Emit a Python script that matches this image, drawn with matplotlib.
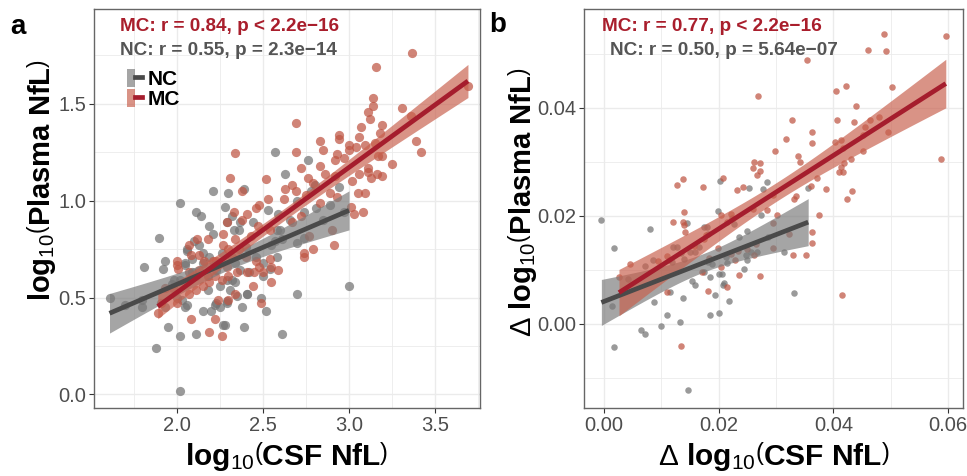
import numpy as np
import matplotlib
matplotlib.use("Agg")
import matplotlib.pyplot as plt
from matplotlib.patches import Patch
from matplotlib.lines import Line2D
from matplotlib.legend_handler import HandlerTuple

plt.rcParams["font.family"] = ["Liberation Sans", "DejaVu Sans"]
plt.rcParams["mathtext.fontset"] = "custom"
plt.rcParams["mathtext.rm"] = "Liberation Sans"
plt.rcParams["mathtext.bf"] = "Liberation Sans:bold"
plt.rcParams["mathtext.it"] = "Liberation Sans:italic"

# ---------------------------------------------------------
# panel a: log10 CSF NfL vs log10 plasma NfL
# ---------------------------------------------------------
a_nc_x = [1.61, 1.70, 1.80, 1.81, 1.90, 1.93, 1.92, 1.88, 1.95, 2.02,
          2.02, 2.02, 2.11, 2.14, 2.21, 2.30, 2.39, 2.57, 2.76, 2.63,
          2.80, 2.78, 3.00, 2.61, 2.70, 2.52, 2.49, 2.39, 2.38, 2.28,
          2.20, 2.15, 2.11, 2.05, 2.28, 2.19, 2.06, 2.13, 2.05, 2.09,
          2.02, 2.23, 2.29, 2.18, 2.41, 2.31, 2.34, 2.32, 2.36, 2.44,
          2.53, 2.58, 2.55, 2.61, 2.70, 2.74, 2.81, 2.89, 2.94, 2.97,
          2.85, 2.50, 2.58, 2.46, 2.40, 2.34, 2.26, 2.23, 2.19, 2.15,
          2.11, 2.00, 1.97, 1.93, 2.42, 2.50, 2.37, 2.29, 2.25, 2.66,
          2.70, 1.80, 2.27, 2.41, 2.32, 2.05, 2.06, 1.985, 2.03, 2.06,
          2.22, 2.25, 2.29, 2.35, 2.54, 2.57, 2.60, 2.59, 2.33, 2.37,
          2.29, 2.21, 2.15, 2.09, 2.10, 2.74]
a_nc_y = [0.50, 0.46, 0.49, 0.66, 0.81, 0.69, 0.65, 0.24, 0.35, 0.30,
          0.02, 0.99, 0.94, 0.92, 1.05, 1.04, 1.06, 1.25, 1.21, 1.14,
          1.08, 1.05, 0.56, 0.31, 0.52, 0.43, 0.50, 0.35, 0.45, 0.36,
          0.43, 0.43, 0.31, 0.45, 0.97, 0.87, 0.75, 0.77, 0.68, 0.63,
          0.59, 0.47, 0.47, 0.54, 0.52, 0.54, 0.58, 0.92, 0.85, 0.89,
          0.95, 0.85, 0.77, 0.80, 0.78, 0.94, 0.96, 0.98, 1.07, 0.94,
          0.90, 0.68, 0.71, 0.71, 0.76, 0.68, 0.73, 0.64, 0.71, 0.68,
          0.61, 0.50, 0.57, 0.45, 0.63, 0.61, 0.64, 0.59, 0.56, 0.90,
          1.00, 0.45, 0.36, 0.52, 0.59, 0.67, 0.74, 0.59, 0.49, 0.46,
          0.46, 0.45, 0.48, 0.51, 0.65, 0.79, 0.85, 0.93, 0.85, 0.89,
          0.89, 0.83, 0.73, 0.70, 0.79, 0.81]

a_mc_x = [3.365, 3.156, 3.137, 3.137, 3.11, 3.12, 3.07, 3.19, 3.18, 3.06,
          2.94, 2.94, 3.31, 3.36, 3.39, 3.42, 3.25, 3.15, 3.09, 3.04,
          3.00, 2.69, 2.83, 2.85, 2.69, 2.93, 2.97, 3.00, 2.92, 2.72,
          2.76, 2.86, 2.83, 2.92, 3.02, 3.06, 3.11, 3.13, 3.16, 3.19,
          3.11, 3.05, 3.09, 2.89, 2.69, 2.67, 2.79, 3.69, 3.17, 3.19,
          2.63, 2.62, 2.75, 2.83, 2.93, 3.01, 3.03, 3.08, 2.90, 2.91,
          2.79, 2.74, 2.74, 2.77, 2.67, 2.72, 2.46, 2.41, 2.33, 2.29,
          2.38, 2.47, 2.54, 2.43, 2.34, 2.27, 2.18, 2.12, 2.07, 2.08,
          2.13, 2.16, 2.21, 2.27, 2.30, 2.32, 2.36, 2.40, 2.46, 2.54,
          2.48, 2.55, 2.59, 2.55, 2.50, 2.45, 2.41, 2.35, 2.30, 2.26,
          2.22, 2.19, 2.15, 2.11, 2.07, 2.00, 2.00, 2.01, 1.98, 1.93,
          1.89, 1.91, 2.00, 2.08, 2.22, 2.19, 2.26, 2.24, 2.30, 2.34,
          2.49, 2.44, 2.13, 2.18, 2.23, 2.29, 2.07, 2.336, 2.31, 2.52,
          2.38, 2.53, 2.48]
a_mc_y = [1.765, 1.69, 1.53, 1.49, 1.46, 1.42, 1.38, 1.39, 1.35, 1.33,
          1.34, 1.32, 1.48, 1.44, 1.31, 1.25, 1.19, 1.30, 1.29, 1.28,
          1.29, 1.40, 1.31, 1.26, 1.25, 1.24, 1.22, 1.26, 1.21, 1.17,
          1.12, 1.14, 1.18, 1.13, 1.10, 1.14, 1.15, 1.12, 1.14, 1.13,
          1.17, 1.04, 1.04, 1.04, 1.05, 1.08, 1.09, 1.59, 1.23, 1.23,
          1.06, 1.01, 1.03, 0.99, 1.02, 0.97, 0.93, 0.94, 0.85, 0.77,
          0.75, 0.73, 0.71, 0.82, 0.89, 0.92, 0.96, 0.93, 0.94, 0.89,
          0.90, 0.87, 0.85, 0.82, 0.80, 0.83, 0.80, 0.80, 0.77, 0.72,
          0.72, 0.69, 0.69, 0.77, 0.75, 0.71, 0.75, 0.71, 0.69, 0.70,
          0.66, 0.66, 0.64, 0.58, 0.63, 0.63, 0.63, 0.63, 0.61, 0.59,
          0.61, 0.58, 0.56, 0.54, 0.52, 0.67, 0.69, 0.65, 0.55, 0.55,
          0.42, 0.47, 0.47, 0.39, 0.39, 0.32, 0.30, 0.49, 0.49, 0.52,
          0.47, 0.56, 0.64, 0.61, 0.69, 0.66, 0.63, 1.249, 1.12, 1.11,
          1.05, 1.01, 0.98]

# ---------------------------------------------------------
# panel b: change in log10 NfL (values in units of 1e-3)
# ---------------------------------------------------------
b_nc_x = [20.2, 25.3, 27.7, 28.4, 35.6, -0.47, 1.74, 8.0, 4.1, 7.1,
          8.6, 1.45, 1.74, 6.5, 7.1, 8.7, 9.9, 10.9, 11.5, 13.3,
          13.8, 14.6, 15.4, 15.8, 12.1, 12.8, 13.5, 13.9, 11.3, 11.9,
          14.9, 16.6, 17.4, 18.0, 18.1, 18.5, 18.4, 19.3, 20.1, 20.7,
          20.9, 21.8, 20.1, 20.5, 18.1, 18.9, 21.5, 21.2, 23.5, 25.0,
          24.4, 25.6, 26.7, 24.7, 25.0, 22.6, 22.3, 19.9, 28.6, 31.4,
          33.1, 27.3, 14.5, 15.8, 17.4]
b_nc_y = [26.4, 25.2, 24.9, 26.3, 25.2, 19.3, 14.1, 17.5, 8.3, 10.7,
          11.8, 3.3, -4.3, -1.2, -1.9, 4.1, -0.4, 1.6, 5.8, 0.4,
          4.7, -12.2, 7.9, 7.1, 14.3, 14.3, 13.2, 12.0, 11.8, 11.5,
          13.3, 14.3, 18.0, 18.0, 16.7, 8.7, 1.7, 5.3, 2.0, 7.1,
          7.6, 4.2, 9.3, 9.3, 11.5, 11.0, 11.2, 12.4, 16.1, 17.1,
          10.1, 13.3, 13.3, 12.7, 11.8, 18.4, 19.6, 20.9, 16.1, 13.3,
          5.7, 20.1, 18.6, 13.3, 9.6]

b_mc_x = [48.8, 59.6, 46.1, 49.1, 35.4, 26.9, 40.4, 42.2, 50.2, 43.9,
          32.8, 40.7, 43.6, 46.4, 48.0, 45.5, 49.5, 36.3, 36.3, 31.7,
          40.2, 41.4, 41.6, 45.2, 45.2, 29.8, 33.9, 34.1, 26.2, 27.2,
          25.9, 27.2, 26.7, 41.9, 43.0, 41.4, 40.9, 41.7, 58.8, 37.1,
          12.7, 13.7, 17.3, 20.8, 24.3, 23.2, 38.7, 43.2, 42.3, 33.4,
          36.1, 29.5, 33.1, 2.6, 4.5, 9.4, 12.1, 13.7, 13.9, 14.1,
          11.0, 10.9, 13.4, 15.6, 17.4, 17.7, 17.0, 18.1, 20.4, 22.1,
          21.4, 21.5, 20.4, 19.8, 22.1, 22.9, 23.5, 23.4, 25.0, 26.2,
          26.5, 27.2, 28.4, 29.4, 30.2, 29.5, 32.3, 32.9, 35.3, 36.2,
          36.3, 37.4, 41.5, 25.9, 13.9, 18.3]
b_mc_y = [53.6, 53.3, 50.7, 50.5, 48.8, 42.2, 43.1, 44.1, 43.9, 40.4,
          37.8, 37.7, 37.4, 37.8, 38.3, 36.4, 35.6, 35.6, 33.5, 34.3,
          33.7, 34.0, 32.6, 34.9, 32.0, 32.0, 31.0, 30.0, 30.0, 29.7,
          28.8, 28.3, 27.6, 29.8, 30.6, 29.1, 28.1, 28.1, 30.6, 27.0,
          25.7, 26.8, 25.3, 27.0, 25.4, 24.7, 24.9, 24.6, 23.1, 23.7,
          25.6, 23.8, 23.2, 8.6, 11.0, 11.6, 18.8, 18.8, 18.3, 17.0,
          12.5, 5.8, -4.1, 14.4, 15.7, 16.5, 9.6, 6.0, 20.1, 20.4,
          18.8, 6.8, 10.5, 14.1, 13.0, 11.8, 9.1, 13.4, 13.8, 12.7,
          14.7, 8.9, 21.0, 18.6, 20.1, 14.1, 16.7, 12.8, 12.7, 17.0,
          15.0, 20.2, 5.4, 21.2, 20.7, 12.1]

a_notes = ["MC: r = 0.84, p < 2.2e\u221216", "NC: r = 0.55, p = 2.3e\u221214"]
b_notes = ["MC: r = 0.77, p < 2.2e\u221216", "NC: r = 0.50, p = 5.64e\u221207"]

MC_PT, NC_PT = "#BF5543", "#747474"
MC_LINE, NC_LINE = "#A51D2D", "#4A4A4A"
MC_BAND, NC_BAND = "#C8604D", "#7A7A7A"
MC_TXT, NC_TXT = "#A91E2C", "#555555"


def lm_band(x, y, n_out=100):
    x = np.asarray(x, float)
    y = np.asarray(y, float)
    b1, b0 = np.polyfit(x, y, 1)
    xs = np.linspace(x.min(), x.max(), n_out)
    fit = b0 + b1 * xs
    resid = y - (b0 + b1 * x)
    n = len(x)
    s = np.sqrt(np.sum(resid ** 2) / (n - 2))
    sxx = np.sum((x - x.mean()) ** 2)
    se = s * np.sqrt(1.0 / n + (xs - x.mean()) ** 2 / sxx)
    return xs, fit, fit - 1.98 * se, fit + 1.98 * se


def style_axes(ax, xlim, ylim, xmaj, ymaj, xmin, ymin, xfmt, yfmt):
    ax.set_xlim(*xlim)
    ax.set_ylim(*ylim)
    ax.set_xticks(xmaj)
    ax.set_yticks(ymaj)
    ax.set_xticks(xmin, minor=True)
    ax.set_yticks(ymin, minor=True)
    ax.set_xticklabels([xfmt.format(v) for v in xmaj])
    ax.set_yticklabels([yfmt.format(v) for v in ymaj])
    ax.grid(which="major", color="#EBEBEB", lw=1.0)
    ax.grid(which="minor", color="#EBEBEB", lw=0.6)
    ax.set_axisbelow(True)
    ax.tick_params(which="major", length=3.5, width=0.8, color="#333333",
                   labelsize=14.5, labelcolor="#4D4D4D", pad=2)
    ax.tick_params(which="minor", length=0)
    for sp in ax.spines.values():
        sp.set_color("#666666")
        sp.set_linewidth(1.0)


def draw_panel(ax, nc_x, nc_y, mc_x, mc_y, size):
    ax.scatter(nc_x, nc_y, s=size, color=NC_PT, alpha=0.72, lw=0, zorder=2)
    ax.scatter(mc_x, mc_y, s=size, color=MC_PT, alpha=0.72, lw=0, zorder=2)
    for xx, yy, band, line in [(nc_x, nc_y, NC_BAND, NC_LINE), (mc_x, mc_y, MC_BAND, MC_LINE)]:
        xs, fit, lo, hi = lm_band(xx, yy)
        ax.fill_between(xs, lo, hi, color=band, alpha=0.68, lw=0, zorder=3)
        ax.plot(xs, fit, color=line, lw=3.4, solid_capstyle="butt", zorder=4)


fig = plt.figure(figsize=(9.67, 4.76), dpi=100)
ax_a = fig.add_axes([94 / 967, 68 / 476, 386 / 967, 399 / 476])
ax_b = fig.add_axes([584 / 967, 68 / 476, 379 / 967, 399 / 476])

draw_panel(ax_a, a_nc_x, a_nc_y, a_mc_x, a_mc_y, 44)
style_axes(ax_a, (1.52, 3.76), (-0.07, 1.99),
           [2.0, 2.5, 3.0, 3.5], [0.0, 0.5, 1.0, 1.5],
           [1.75, 2.25, 2.75, 3.25, 3.75], [0.25, 0.75, 1.25, 1.75],
           "{:.1f}", "{:.1f}")

s = 1e-3
draw_panel(ax_b, [v * s for v in b_nc_x], [v * s for v in b_nc_y],
           [v * s for v in b_mc_x], [v * s for v in b_mc_y], 22)
style_axes(ax_b, (-0.0035, 0.0626), (-0.0156, 0.0583),
           [0.0, 0.02, 0.04, 0.06], [0.0, 0.02, 0.04],
           [0.01, 0.03, 0.05], [-0.01, 0.01, 0.03, 0.05],
           "{:.2f}", "{:.2f}")

ax_a.set_xlabel(r"$\mathbf{log}_{10}\left(\mathbf{CSF\ NfL}\right)$", fontsize=21.5)
ax_a.set_ylabel(r"$\mathbf{log}_{10}\left(\mathbf{Plasma\ NfL}\right)$", fontsize=21)
ax_b.set_xlabel(r"$\Delta\ \mathbf{log}_{10}\left(\mathbf{CSF\ NfL}\right)$", fontsize=21.5)
ax_b.set_ylabel(r"$\Delta\ \mathbf{log}_{10}\left(\mathbf{Plasma\ NfL}\right)$", fontsize=21)
ax_a.xaxis.set_label_coords(0.5, -0.08)
ax_b.xaxis.set_label_coords(0.5, -0.08)
ax_a.yaxis.set_label_coords(-0.093, 0.57)
ax_b.yaxis.set_label_coords(-0.118, 0.515)

for ax, notes, x0, x1, fs in [(ax_a, a_notes, 0.067, 0.067, 13.6),
                              (ax_b, b_notes, 0.0475, 0.0686, 13.7)]:
    ax.text(x0, 0.957, notes[0], transform=ax.transAxes, color=MC_TXT,
            fontsize=fs, fontweight="bold", va="center", ha="left")
    ax.text(x1, 0.895, notes[1], transform=ax.transAxes, color=NC_TXT,
            fontsize=fs, fontweight="bold", va="center", ha="left")

handles = [(Patch(color=NC_BAND, alpha=0.68, lw=0), Line2D([], [], color=NC_LINE, lw=3.4)),
           (Patch(color=MC_BAND, alpha=0.68, lw=0), Line2D([], [], color=MC_LINE, lw=3.4))]
leg = ax_a.legend(handles, ["NC", "MC"], handler_map={tuple: HandlerTuple(ndivide=None)},
                  loc="upper left", bbox_to_anchor=(0.085, 0.85), borderaxespad=0,
                  borderpad=0, frameon=False, handlelength=0.75, handleheight=0.95,
                  handletextpad=0.25, labelspacing=0.0, prop={"size": 15, "weight": "bold"})

fig.text(18 / 967, 1 - 27 / 476, "a", fontsize=20, fontweight="bold", ha="center", va="center")
fig.text(498 / 967, 1 - 25 / 476, "b", fontsize=20, fontweight="bold", ha="center", va="center")

fig.savefig("out.png", dpi=100)
